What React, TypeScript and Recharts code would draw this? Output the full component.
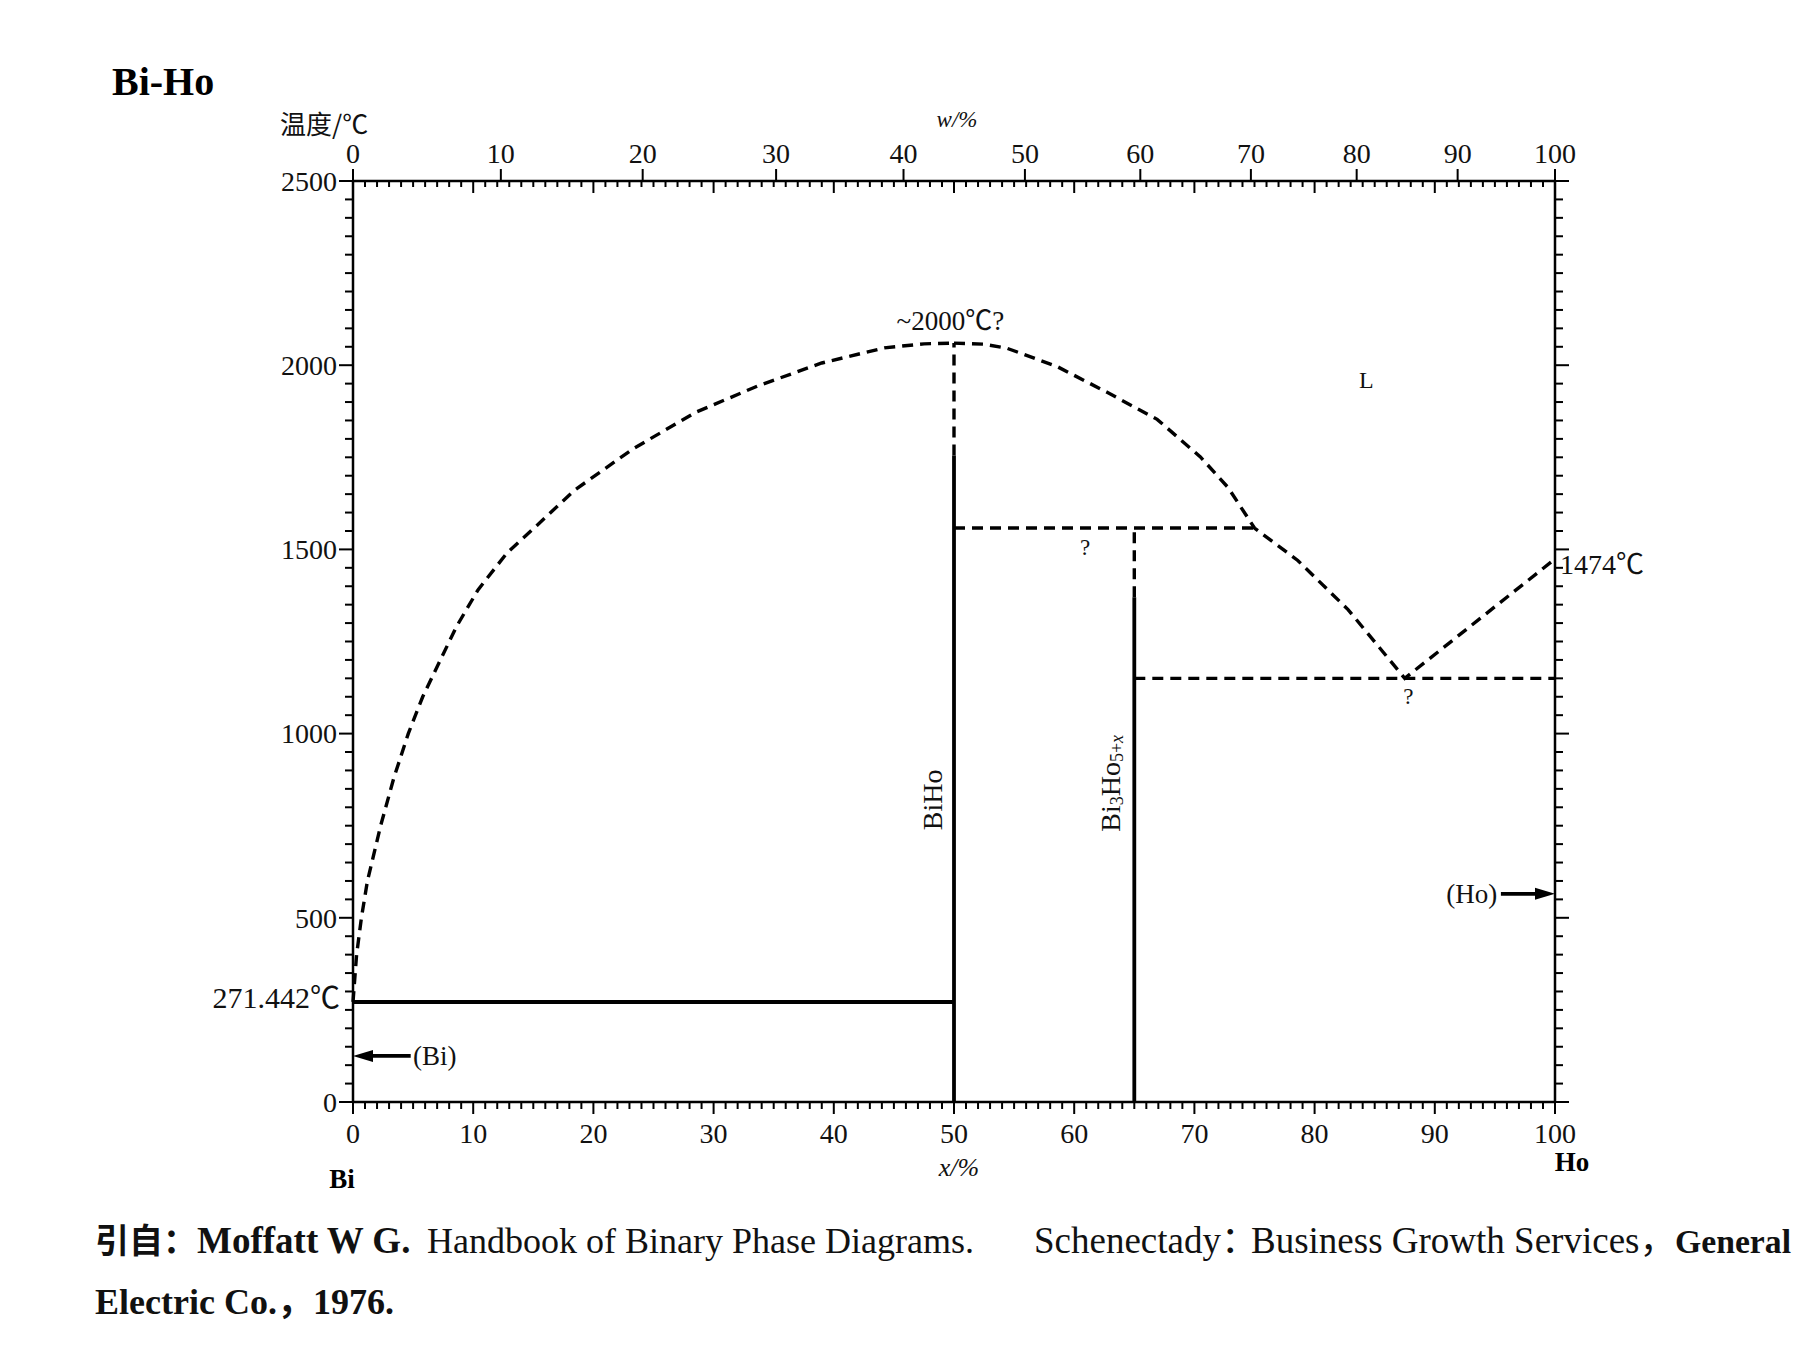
import { ComposedChart, Line, Scatter, XAxis, YAxis } from 'recharts'

const W = 1795
const H = 1346
const serif = "'Liberation Serif', 'Noto Sans CJK SC', serif"
const cjk = "'Noto Sans CJK SC', 'Liberation Serif', serif"

// x = Ho 摩尔分数 (at.%), t = 温度 (℃)
const liquidusBi = [
  { x: 0, t: 271.442 }, { x: 0.3, t: 400 }, { x: 0.7, t: 500 }, { x: 1.2, t: 600 },
  { x: 2.3, t: 750 }, { x: 3.4, t: 880 }, { x: 4.6, t: 1000 }, { x: 5.8, t: 1100 },
  { x: 7.2, t: 1195 }, { x: 8.6, t: 1290 }, { x: 10.4, t: 1390 }, { x: 12.8, t: 1490 },
  { x: 15.3, t: 1565 }, { x: 18.4, t: 1660 }, { x: 23.3, t: 1773 }, { x: 28.5, t: 1872 },
  { x: 33.7, t: 1944 }, { x: 39, t: 2006 }, { x: 44.2, t: 2047 }, { x: 47.5, t: 2058 },
  { x: 50, t: 2060 },
]
const liquidusHo = [
  { x: 50, t: 2060 }, { x: 52.5, t: 2057 }, { x: 54.4, t: 2046 }, { x: 58.6, t: 1996 },
  { x: 62.7, t: 1927 }, { x: 66.9, t: 1853 }, { x: 70.5, t: 1751 }, { x: 72.8, t: 1668 },
  { x: 75, t: 1558 }, { x: 78.6, t: 1470 }, { x: 82.8, t: 1336 }, { x: 87.5, t: 1150 },
  { x: 100, t: 1474 },
]
const solidusBi = [{ x: 0, t: 271.442 }, { x: 50, t: 271.442 }]
const peritectic = [{ x: 50, t: 1558 }, { x: 75, t: 1558 }]
const eutectic = [{ x: 65, t: 1150 }, { x: 100, t: 1150 }]
const biHoSolid = [{ x: 50, t: 0 }, { x: 50, t: 1755 }]
const biHoDash = [{ x: 50, t: 1755 }, { x: 50, t: 2060 }]
const bi3Ho5Solid = [{ x: 65, t: 0 }, { x: 65, t: 1370 }]
const bi3Ho5Dash = [{ x: 65, t: 1370 }, { x: 65, t: 1558 }]
const arrowBi = [{ x: 4.8, t: 125 }, { x: 0.8, t: 125 }]
const arrowHo = [{ x: 95.5, t: 565 }, { x: 99.2, t: 565 }]
const arrowHeads = [{ x: 0, t: 125, dir: -1 }, { x: 100, t: 565, dir: 1 }]

// 刻度
const wtLabels = ['0', '10', '20', '30', '40', '50', '60', '70', '80', '90', '100']
const wtAt = [0, 12.3, 24.1, 35.2, 45.8, 55.9, 65.5, 74.7, 83.5, 91.9, 100]
const xTicks = Array.from({ length: 101 }, (_, i) => i)
const topTicks = [...wtAt, ...xTicks.slice(1, 100)].sort((a, b) => a - b)
const tTicks = Array.from({ length: 51 }, (_, i) => i * 50)

const notes = [
  { key: 'max', x: 49.7, t: 2120, text: '~2000℃?' },
  { key: 'L', x: 84.3, t: 1960, text: 'L' },
  { key: 'q1', x: 60.9, t: 1505, text: '?' },
  { key: 'q2', x: 87.8, t: 1100, text: '?' },
  { key: 'ho', x: 100, t: 1460, text: '1474℃' },
  { key: 'bi', x: 0, t: 284, text: '271.442℃' },
  { key: 'biho', x: 48.2, t: 820, text: 'BiHo' },
  { key: 'bi3ho5', x: 63, t: 865, text: 'Bi3Ho5+x' },
  { key: 'pBi', x: 5.0, t: 125, text: '(Bi)' },
  { key: 'pHo', x: 95.2, t: 565, text: '(Ho)' },
]

const ink = '#111'
const tickFont = { fontFamily: serif, fontSize: 28, fill: ink }

function BottomTick({ x, y, payload }: any) {
  const major = payload.value % 10 === 0
  return (
    <g>
      <line x1={x} x2={x} y1={y} y2={y + (major ? 12 : 7)} stroke="#000" strokeWidth={2} />
      {major && <text {...tickFont} x={x} y={y + 41} textAnchor="middle">{payload.value}</text>}
    </g>
  )
}

function TopTick({ x, y, payload }: any) {
  const i = wtAt.indexOf(payload.value)
  if (i >= 0) {
    return (
      <g>
        <line x1={x} x2={x} y1={y} y2={y - 12} stroke="#000" strokeWidth={2} />
        <text {...tickFont} x={x} y={y - 18} textAnchor="middle">{wtLabels[i]}</text>
      </g>
    )
  }
  const len = payload.value % 10 === 0 ? 12 : 6
  return <line x1={x} x2={x} y1={y} y2={y + len} stroke="#000" strokeWidth={2} />
}

function LeftTick({ x, y, payload }: any) {
  const major = payload.value % 500 === 0
  return (
    <g>
      <line x1={x} x2={x - (major ? 14 : 8)} y1={y} y2={y} stroke="#000" strokeWidth={2} />
      {major && <text {...tickFont} x={x - 16} y={y} dy="0.35em" textAnchor="end">{payload.value}</text>}
    </g>
  )
}

function RightTick({ x, y, payload }: any) {
  const major = payload.value % 500 === 0
  return <line x1={x} x2={x + (major ? 14 : 8)} y1={y} y2={y} stroke="#000" strokeWidth={2} />
}

function renderNote(p: any) {
  const { cx, cy, payload } = p
  const base = { fontFamily: serif, fill: ink, dominantBaseline: 'central' as const }
  switch (payload.key) {
    case 'biho':
      return <text {...base} x={cx} y={cy} fontSize={28} textAnchor="middle" transform={`rotate(-90 ${cx} ${cy})`}>{payload.text}</text>
    case 'bi3ho5':
      return (
        <text {...base} x={cx} y={cy} fontSize={28} textAnchor="middle" transform={`rotate(-90 ${cx} ${cy})`}>
          Bi<tspan fontSize={18} dy={7}>3</tspan><tspan dy={-7}>Ho</tspan>
          <tspan fontSize={18} dy={7}>5+</tspan><tspan fontSize={18} fontStyle="italic">x</tspan>
        </text>
      )
    case 'ho':
      return <text {...base} x={cx + 5} y={cy} fontSize={28} textAnchor="start">{payload.text}</text>
    case 'bi':
      return <text {...base} x={cx - 13} y={cy} fontSize={30} textAnchor="end">{payload.text}</text>
    case 'pBi':
      return <text {...base} x={cx} y={cy} fontSize={27} textAnchor="start">{payload.text}</text>
    case 'pHo':
      return <text {...base} x={cx} y={cy} fontSize={27} textAnchor="end">{payload.text}</text>
    case 'q1':
    case 'q2':
      return <text {...base} x={cx} y={cy} fontSize={23} textAnchor="middle">{payload.text}</text>
    case 'L':
      return <text {...base} x={cx} y={cy} fontSize={24} textAnchor="middle">{payload.text}</text>
    default:
      return <text {...base} x={cx} y={cy} fontSize={27} textAnchor="middle">{payload.text}</text>
  }
}

function renderHead(p: any) {
  const { cx, cy, payload } = p
  const d = payload.dir
  const pts = `${cx},${cy} ${cx - d * 20},${cy - 6} ${cx - d * 20},${cy + 6}`
  return <polygon points={pts} fill="#000" />
}

const ax = { stroke: '#000', strokeWidth: 2.5 }
const dash = '11 7'

export default function App() {
  const line = (data: any[], dashed: boolean, w = 3.4, xId = 'b', yId = 'l', hidden = false) => (
    <Line data={data} dataKey="t" xAxisId={xId} yAxisId={yId} type="linear"
      stroke={hidden ? 'transparent' : '#000'}
      strokeWidth={w} strokeDasharray={dashed ? dash : undefined}
      dot={false} activeDot={false} isAnimationActive={false} />
  )
  return (
    <div style={{ position: 'relative', width: W, height: H, background: '#fff' }}>
      <style>{'body{margin:0}'}</style>
      {/* axes are 1px thick, so the plot area comes from the margins */}
      <ComposedChart width={W} height={H} margin={{ top: 180, left: 352, right: 239, bottom: 243 }}>
        <XAxis xAxisId="b" dataKey="x" type="number" domain={[0, 100]} ticks={xTicks} interval={0}
          orientation="bottom" height={1} tickSize={0} tickMargin={0} axisLine={ax} tickLine={false} tick={<BottomTick />} />
        <XAxis xAxisId="t" dataKey="x" type="number" domain={[0, 100]} ticks={topTicks} interval={0}
          orientation="top" height={1} tickSize={0} tickMargin={0} axisLine={ax} tickLine={false} tick={<TopTick />} />
        <YAxis yAxisId="l" dataKey="t" type="number" domain={[0, 2500]} ticks={tTicks} interval={0}
          orientation="left" width={1} tickSize={0} tickMargin={0} axisLine={ax} tickLine={false} tick={<LeftTick />} />
        <YAxis yAxisId="r" dataKey="t" type="number" domain={[0, 2500]} ticks={tTicks} interval={0}
          orientation="right" width={1} tickSize={0} tickMargin={0} axisLine={ax} tickLine={false} tick={<RightTick />} />

        {line(liquidusBi, false, 1, 't', 'r', true)}
        {line(liquidusBi, true)}
        {line(liquidusHo, true)}
        {line(peritectic, true)}
        {line(eutectic, true)}
        {line(biHoDash, true)}
        {line(bi3Ho5Dash, true)}
        {line(solidusBi, false, 3.8)}
        {line(biHoSolid, false, 3.8)}
        {line(bi3Ho5Solid, false, 3.8)}
        {line(arrowBi, false, 3.8)}
        {line(arrowHo, false, 3.8)}
        <Scatter data={arrowHeads} xAxisId="b" yAxisId="l" shape={renderHead} isAnimationActive={false} />
        <Scatter data={notes} xAxisId="b" yAxisId="l" shape={renderNote} isAnimationActive={false} />
      </ComposedChart>

      <svg width={W} height={H} style={{ position: 'absolute', left: 0, top: 0, pointerEvents: 'none' }}>
        <text x={112} y={95} fontFamily={serif} fontWeight="bold" fontSize={40} fill="#000">Bi-Ho</text>
        <text x={280} y={134} fontFamily={cjk} fontSize={26} fill={ink}>温度/℃</text>
        <text x={957} y={127} fontFamily={serif} fontStyle="italic" fontSize={23} textAnchor="middle" fill={ink}>w/%</text>
        <text x={342} y={1188} fontFamily={serif} fontWeight="bold" fontSize={27} textAnchor="middle" fill="#000">Bi</text>
        <text x={1572} y={1171} fontFamily={serif} fontWeight="bold" fontSize={27} textAnchor="middle" fill="#000">Ho</text>
        <text x={959} y={1176} fontFamily={serif} fontStyle="italic" fontSize={26} textAnchor="middle" fill={ink}>x/%</text>
        <g fontFamily={serif} fontSize={36} fill={ink}>
          <text x={95} y={1253}>
            <tspan fontFamily={cjk} fontWeight="bold" fontSize={34}>引自：</tspan>
            <tspan fontWeight="bold" fontSize={37}>Moffatt W G.</tspan>
          </text>
          <text x={427} y={1253}>Handbook of Binary Phase Diagrams.</text>
          <text x={1034} y={1253} fontSize={37}>Schenectady：</text>
          <text x={1251} y={1253} fontSize={37}>Business Growth Services，</text>
          <text x={1675} y={1253} fontWeight="bold" fontSize={34} textLength={116} lengthAdjust="spacingAndGlyphs">General</text>
          <text x={95} y={1314} fontWeight="bold">Electric Co.，1976.</text>
        </g>
      </svg>
    </div>
  )
}
